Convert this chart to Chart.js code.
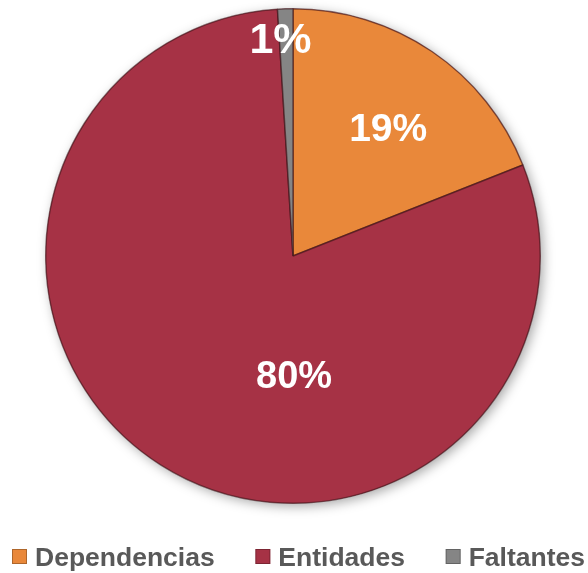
<!DOCTYPE html>
<html>
<head>
<meta charset="utf-8">
<script src="https://cdn.jsdelivr.net/npm/chart.js@4/dist/chart.umd.min.js"></script>
<style>
html,body{margin:0;padding:0;background:#fff;}
#wrap{width:588px;height:573px;position:relative;}
</style>
</head>
<body>
<div id="wrap"><canvas id="c" width="588" height="573"></canvas></div>
<script>
// Data
const categories = ['Dependencias', 'Entidades', 'Faltantes'];
const values = [19, 80, 1];
const valueLabels = ['19%', '80%', '1%'];

// Styles
const colors = ['#E9883A', '#A63245', '#858585'];
const labelRadius = [0.644, 0.484, 0.879];
const labelAngleShiftDeg = [2.5, -32.9, -1.5];
const labelFontSize = [39, 38, 43];
const FONT = '"Liberation Sans", Arial, sans-serif';

const shadowPlugin = {
  id: 'shadowDisc',
  beforeDatasetsDraw(chart) {
    const arc = chart.getDatasetMeta(0).data[0];
    if (!arc) return;
    const ctx = chart.ctx;
    ctx.save();
    ctx.shadowColor = 'rgba(0,0,0,0.35)';
    ctx.shadowBlur = 12;
    ctx.shadowOffsetX = 3;
    ctx.shadowOffsetY = 3;
    ctx.fillStyle = '#A63245';
    ctx.beginPath();
    ctx.arc(arc.x, arc.y, arc.outerRadius, 0, Math.PI * 2);
    ctx.fill();
    ctx.restore();
  }
};

const labelPlugin = {
  id: 'sliceLabels',
  afterDatasetsDraw(chart) {
    const ctx = chart.ctx;
    const meta = chart.getDatasetMeta(0);
    ctx.save();
    ctx.fillStyle = '#ffffff';
    ctx.textAlign = 'center';
    ctx.textBaseline = 'middle';
    meta.data.forEach((arc, i) => {
      ctx.font = 'bold ' + labelFontSize[i] + 'px ' + FONT;
      const mid = (arc.startAngle + arc.endAngle) / 2 + labelAngleShiftDeg[i] * Math.PI / 180;
      const r = arc.outerRadius * labelRadius[i];
      ctx.fillText(valueLabels[i], arc.x + Math.cos(mid) * r, arc.y + Math.sin(mid) * r + 2);
    });
    ctx.restore();
  }
};

// Custom bottom legend, spread across the width like the original
const legendPlugin = {
  id: 'wideLegend',
  afterDraw(chart) {
    const ctx = chart.ctx;
    const left = 12, right = 585, box = 15, gapBoxText = 8, baseline = 566;
    ctx.save();
    ctx.font = 'bold 26.5px ' + FONT;
    const widths = categories.map(c => ctx.measureText(c).width);
    const used = widths.reduce((a, b) => a + b, 0) + categories.length * (box + gapBoxText);
    const gap = (right - left - used) / (categories.length - 1);
    let x = left;
    categories.forEach((c, i) => {
      ctx.fillStyle = colors[i];
      ctx.fillRect(x, baseline - 17, box, box);
      ctx.strokeStyle = 'rgba(0,0,0,0.25)';
      ctx.lineWidth = 1;
      ctx.strokeRect(x + 0.5, baseline - 16.5, box - 1, box - 1);
      x += box + gapBoxText;
      ctx.fillStyle = '#595959';
      ctx.textBaseline = 'alphabetic';
      ctx.textAlign = 'left';
      ctx.fillText(c, x, baseline);
      x += widths[i] + gap;
    });
    ctx.restore();
  }
};

new Chart(document.getElementById('c'), {
  type: 'pie',
  data: {
    labels: categories,
    datasets: [{
      data: values,
      backgroundColor: colors,
      borderColor: 'rgba(60,20,25,0.6)',
      borderWidth: 1.5
    }]
  },
  options: {
    responsive: false,
    animation: false,
    layout: { padding: { left: 45, right: 47, top: 8, bottom: 69 } },
    plugins: {
      tooltip: { enabled: false },
      legend: { display: false }
    }
  },
  plugins: [shadowPlugin, labelPlugin, legendPlugin]
});
</script>
</body>
</html>
